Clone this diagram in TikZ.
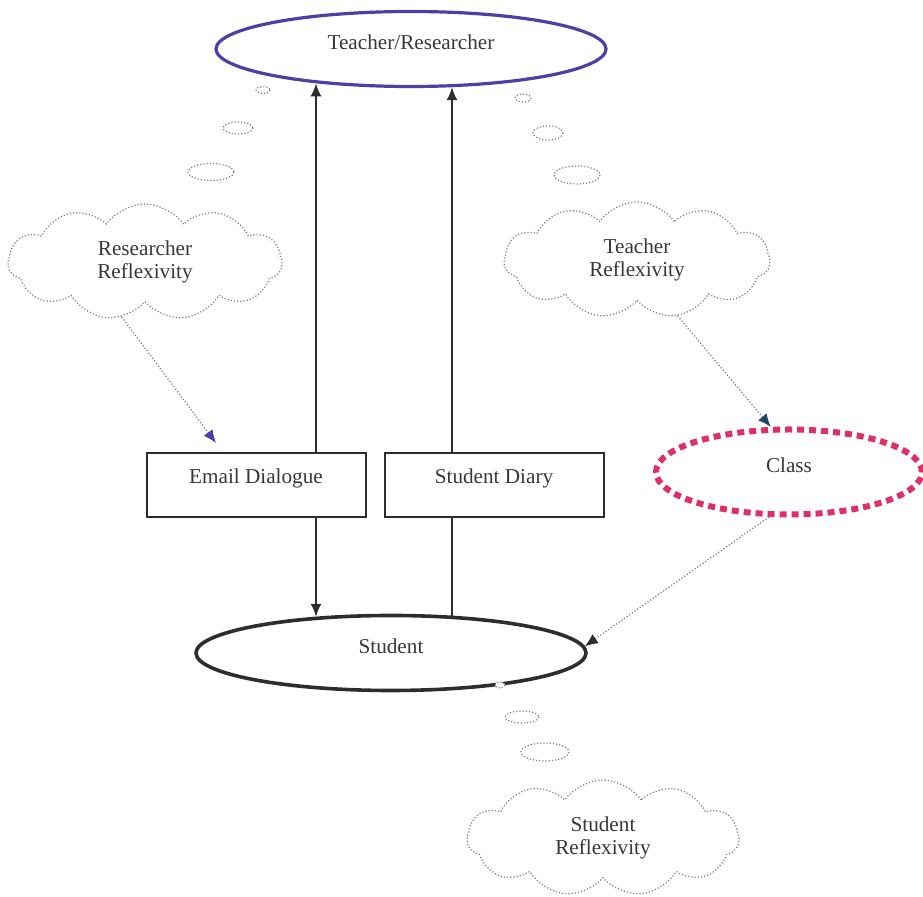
\documentclass[tikz,border=0pt]{standalone}
\usepackage{fontspec}
\setmainfont{Liberation Serif}
\usetikzlibrary{shapes.geometric,shapes.symbols,arrows.meta}
\definecolor{trblue}{RGB}{78,62,165}
\definecolor{classred}{RGB}{222,48,102}
\definecolor{txtgray}{RGB}{55,55,55}
\definecolor{linegray}{RGB}{45,45,45}
\definecolor{bubblegray}{RGB}{125,125,125}
\definecolor{hintgray}{RGB}{120,120,130}
\definecolor{tipnavy}{RGB}{30,70,100}
\begin{document}
\begin{tikzpicture}[x=0.5pt,y=-0.5pt,>={Latex[length=6.5pt,width=5.5pt]},
    every node/.style={font=\fontsize{10.6}{11.6}\selectfont,text=txtgray},
    oval/.style={ellipse,minimum width=195pt,minimum height=37.5pt,line width=1.6pt,text height=7pt,text depth=6pt},
    box/.style={draw=linegray,line width=1pt,minimum width=109.5pt,minimum height=32pt,text height=7pt,text depth=8pt},
    thought/.style={cloud,cloud puffs=11,cloud puff arc=110,aspect=2.3,draw=bubblegray,densely dotted,line width=0.6pt,align=center,minimum width=#1,minimum height=58pt},
    bubble/.style={draw=bubblegray,densely dotted,line width=0.6pt,fill=white},
    link/.style={draw=linegray,line width=1pt},
    hint/.style={draw=hintgray,densely dotted,line width=0.6pt}]
  \useasboundingbox (0,0) rectangle (923,897);
  % ovals and boxes
  \node[oval,draw=trblue] (tr) at (411,49) {Teacher/Researcher};
  \node[oval,draw=linegray,line width=1.8pt] (stu) at (391,653) {Student};
  \node[ellipse,draw=classred,line width=3pt,dash pattern=on 3.5pt off 2.5pt,minimum width=133pt,minimum height=42.5pt,text height=7pt,text depth=6pt] (cls) at (789,472) {Class};
  \node[box] (email) at (256,485) {Email Dialogue};
  \node[box] (diary) at (494,485) {Student Diary};
  % clouds
  \node[thought=137pt] (rr) at (145,262) {Researcher\\Reflexivity};
  \node[thought=133pt] (trr) at (637,260) {Teacher\\Reflexivity};
  \node[thought=136pt] (sr) at (603,838) {Student\\Reflexivity};
  % thought bubbles
  \draw[bubble] (263,90) ellipse [x radius=7, y radius=3.5];
  \draw[bubble] (238,128) ellipse [x radius=15, y radius=6];
  \draw[bubble] (211,172) ellipse [x radius=23, y radius=8.5];
  \draw[bubble] (523,98) ellipse [x radius=8, y radius=4];
  \draw[bubble] (548,133) ellipse [x radius=15, y radius=7];
  \draw[bubble] (577,175) ellipse [x radius=23, y radius=9];
  \draw[bubble] (500,685) ellipse [x radius=5, y radius=3];
  \draw[bubble] (522,717) ellipse [x radius=17, y radius=6];
  \draw[bubble] (545,752) ellipse [x radius=24, y radius=9];
  % solid links
  \coordinate (lx) at (316,0);
  \coordinate (rx) at (452,0);
  \draw[link,->] (lx |- email.north) -- (lx |- tr.200);
  \draw[link,->] (lx |- email.south) -- (lx |- stu.155);
  \draw[link,->] (rx |- diary.north) -- (rx |- tr.318);
  \draw[link] (rx |- stu.31) -- (rx |- diary.south);
  % dotted links
  \coordinate (etip) at (216,443);
  \draw[hint,-{Latex[length=6.5pt,width=5.5pt,color=trblue]}] (rr.247) -- (etip);
  \draw[hint,-{Latex[length=6.5pt,width=5.5pt,color=tipnavy]}] (trr.306) -- (cls.112);
  \draw[hint,-{Latex[length=6.5pt,width=5.5pt,color=linegray]}] (cls.246) -- (stu.2);
\end{tikzpicture}
\end{document}
